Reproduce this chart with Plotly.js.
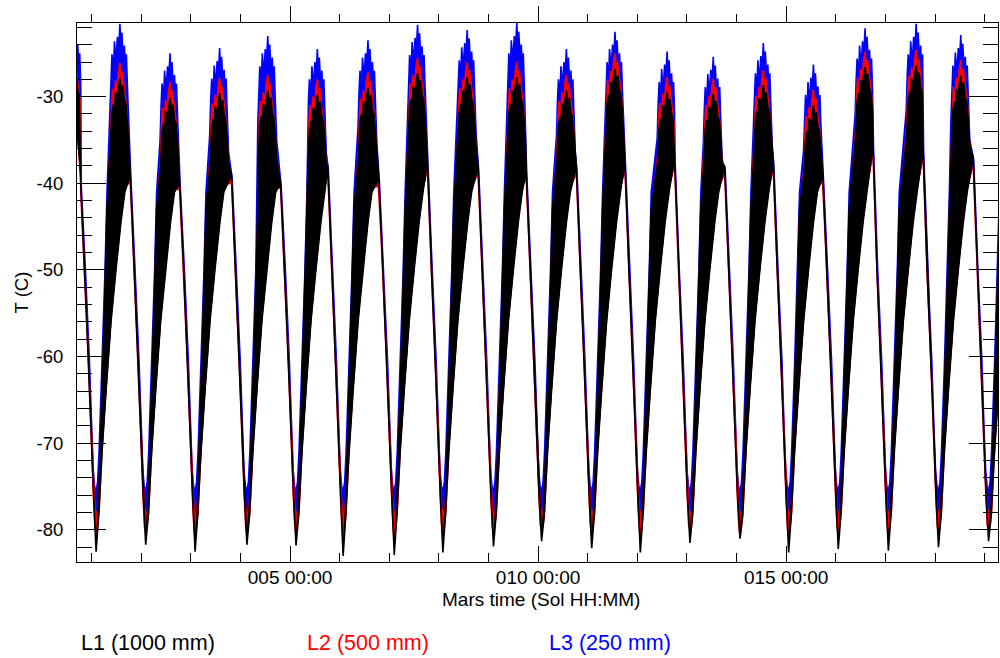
<!DOCTYPE html>
<html>
<head>
<meta charset="utf-8">
<script src="https://cdn.plot.ly/plotly-3.0.1.min.js"></script>
<style>html,body{margin:0;padding:0;background:#fff}#chart{width:1000px;height:658px}</style>
</head>
<body>
<div id="chart"></div>
<script>
// ---- Data (time in sols) ----
// nightly minima (time of each minimum)
const minTime  = [1.09, 2.09, 3.085, 4.13, 5.12, 6.07, 7.10, 8.08, 9.10, 10.07, 11.08, 12.06, 13.06, 14.07, 15.05, 16.05, 17.06, 18.07, 19.08];
// afternoon maxima (time of each maximum, the day before each minimum)
const peakTime = [0.63, 1.57, 2.58, 3.58, 4.55, 5.55, 6.57, 7.57, 8.57, 9.57, 10.57, 11.55, 12.60, 13.53, 14.54, 15.55, 16.59, 17.62, 18.52];

// minimum temperatures (C)
const L1_min = [-82.5, -81.7, -82.5, -81.7, -81.8, -83.0, -82.9, -82.6, -81.9, -81.3, -82.1, -82.6, -81.5, -81.0, -82.6, -82.2, -82.4, -82.0, -81.3];
const L2_min = [-80.5, -80.5, -81.0, -80.5, -80.5, -81.5, -81.5, -81.0, -80.5, -80.0, -80.5, -81.0, -80.0, -80.8, -81.0, -80.5, -80.5, -80.5, -80.0];
const L3_min = [-79.0, -78.5, -79.0, -79.0, -79.0, -80.0, -80.0, -79.5, -79.0, -78.0, -78.5, -80.5, -78.5, -79.0, -79.5, -79.5, -79.0, -80.0, -79.0];

// maximum temperatures (C), top of the daytime fluctuation band
const L1_peak = [-26.8, -27.9, -30.1, -29.6, -29.3, -29.8, -29.0, -27.3, -27.8, -27.8, -29.3, -26.8, -29.5, -29.7, -28.7, -31.0, -26.6, -26.4, -27.6];
const L2_peak = [-25.0, -26.1, -28.3, -27.8, -27.5, -28.0, -27.2, -25.5, -26.0, -26.0, -27.5, -25.0, -27.7, -27.9, -26.9, -29.2, -24.8, -24.6, -25.8];
const L3_peak = [-21.5, -21.6, -25.0, -24.4, -23.0, -24.5, -23.5, -21.7, -22.3, -21.5, -24.5, -22.5, -24.8, -25.4, -23.8, -26.3, -22.1, -21.6, -22.9];

// late-afternoon level where the band closes before the evening fall (C)
const L1_end = [-40.0, -39.0, -40.0, -39.0, -40.0, -38.0, -39.5, -37.5, -38.0, -38.5, -38.0, -37.5, -37.0, -38.0, -37.5, -39.0, -35.5, -36.0, -37.0];
const L2_end = [-40.8, -39.8, -40.8, -39.8, -40.6, -38.8, -40.3, -38.3, -38.8, -39.3, -38.8, -38.3, -37.8, -38.8, -38.3, -39.8, -36.3, -36.8, -37.8];
const L3_end = [-40.3, -39.3, -40.3, -39.3, -40.3, -38.3, -39.8, -37.8, -38.3, -38.8, -38.3, -37.8, -37.3, -38.3, -37.8, -39.3, -35.8, -36.3, -37.3];

// typical daily profile of each sensor, read from one representative sol
// rise*: [sols after minimum, C]; top: [sols from maximum, C below maximum];
// fall*: [sols before minimum, C]; joinDt: sols before minimum where the band closes
const L1_profile = {
  riseU: [[0.05,-77],[0.11,-66],[0.17,-54],[0.22,-43]],
  riseL: [[0.05,-78.5],[0.12,-71],[0.20,-64],[0.30,-56],[0.40,-50],[0.50,-44.5],[0.58,-41]],
  top:   [[-0.19,-8],[-0.16,-4],[-0.13,-3],[-0.11,-4],[-0.09,-1.5],[-0.06,-2.5],[-0.03,-1],[0,0],[0.03,-1.5],[0.06,-0.8],[0.09,-2.5],[0.12,-3],[0.15,-5],[0.18,-8]],
  joinDt: -0.31,
  fallU: [[-0.23,-50],[-0.15,-61],[-0.05,-76]],
  fallL: [[-0.23,-50],[-0.15,-61],[-0.05,-76]],
  minU: null
};
const L2_profile = {
  riseU: [[0.03,-78],[0.06,-76],[0.11,-67],[0.17,-55],[0.22,-44]],
  riseL: [[0.03,-79.5],[0.06,-78],[0.12,-70.5],[0.20,-63.5],[0.30,-55.5],[0.40,-49.5],[0.50,-44],[0.58,-40.5]],
  top:   [[-0.19,-9],[-0.17,-5],[-0.15,-3],[-0.12,-5],[-0.09,-2],[-0.06,-3.5],[-0.03,-1],[0,0],[0.03,-2],[0.05,-1],[0.08,-3],[0.11,-4],[0.14,-5.5],[0.17,-9]],
  joinDt: -0.31,
  fallU: [[-0.23,-50],[-0.15,-61],[-0.05,-76],[-0.025,-77.5]],
  fallL: [[-0.23,-50],[-0.15,-61],[-0.05,-76.5],[-0.025,-79.5]],
  minU: -78
};
const L3_profile = {
  riseU: [[0.03,-74.5],[0.06,-71],[0.12,-61],[0.18,-50],[0.22,-41]],
  riseL: [[0.03,-78],[0.06,-76],[0.12,-70],[0.20,-63.5],[0.30,-55.5],[0.40,-49.5],[0.50,-44],[0.58,-40.5]],
  top:   [[-0.20,-10],[-0.18,-6],[-0.16,-3.5],[-0.13,-5.5],[-0.11,-2],[-0.08,-4.5],[-0.05,-1.5],[-0.03,-3.5],[0,0],[0.02,-3],[0.04,-1],[0.07,-4.5],[0.09,-2.5],[0.11,-5],[0.13,-3.5],[0.15,-7],[0.18,-12]],
  joinDt: -0.30,
  fallU: [[-0.215,-50],[-0.135,-60.5],[-0.06,-73],[-0.03,-75]],
  fallL: [[-0.215,-50],[-0.135,-60.5],[-0.06,-74],[-0.03,-77.5]],
  minU: -75.5
};

const seriesNames  = ['L1 (1000 mm)', 'L2 (500 mm)', 'L3 (250 mm)'];
const seriesColors = ['#000000', '#ff0000', '#0000ff'];

const xTickVals = [5, 10, 15];
const xTickText = ['005 00:00', '010 00:00', '015 00:00'];
const yTickVals = [-80, -70, -60, -50, -40, -30];
const yTickText = ['-80', '-70', '-60', '-50', '-40', '-30'];
const xTitle = 'Mars time (Sol HH:MM)';
const yTitle = 'T (C)';
const xRange = [0.705, 19.27];
const yRange = [-83.7, -21.5];

// ---- Build envelope polygon (upper edge forward, lower edge backward) ----
function buildBand(prof, mins, peaks, ends) {
  const U = [], L = [];
  const n = minTime.length;
  for (let i = 0; i <= n; i++) {
    let dayU = [], dayL = [];
    const mPrev = i > 0 ? minTime[i - 1] : null;
    if (mPrev !== null) {
      prof.riseU.forEach(([dt, v]) => dayU.push([mPrev + dt, v]));
      prof.riseL.forEach(([dt, v]) => dayL.push([mPrev + dt, v]));
    }
    if (i < n) {
      const p = peakTime[i], m = minTime[i];
      const topStart = p + prof.top[0][0];
      dayU = dayU.filter(q => q[0] < topStart);
      prof.top.forEach(([dt, dv]) => dayU.push([p + dt, peaks[i] + dv]));
      const jt = m + prof.joinDt;
      dayU = dayU.filter(q => q[0] < jt);
      dayL = dayL.filter(q => q[0] < jt);
      dayU.push([jt, ends[i]]); dayL.push([jt, ends[i]]);
      prof.fallU.forEach(([dt, v]) => dayU.push([m + dt, v]));
      prof.fallL.forEach(([dt, v]) => dayL.push([m + dt, v]));
      dayU.push([m, prof.minU === null ? mins[i] : prof.minU]);
      dayL.push([m, mins[i]]);
    }
    dayU.sort((a, b) => a[0] - b[0]);
    dayL.sort((a, b) => a[0] - b[0]);
    dayU.forEach(q => U.push(q));
    dayL.forEach(q => L.push(q));
  }
  const Uc = U.filter(q => q[0] >= 0.6);
  const Lc = L.filter(q => q[0] >= 0.6).reverse();
  const all = Uc.concat(Lc);
  return { x: all.map(q => q[0]), y: all.map(q => q[1]) };
}

const bands = [
  buildBand(L3_profile, L3_min, L3_peak, L3_end),
  buildBand(L2_profile, L2_min, L2_peak, L2_end),
  buildBand(L1_profile, L1_min, L1_peak, L1_end)
];
const order = [2, 1, 0]; // draw L3, then L2, then L1 on top

const traces = bands.map((b, k) => {
  const s = order[k];
  return {
    type: 'scatter', mode: 'lines', x: b.x, y: b.y,
    fill: 'toself', fillcolor: seriesColors[s],
    line: { color: seriesColors[s], width: 1.6 },
    name: seriesNames[s], showlegend: false, hoverinfo: 'skip',
    xaxis: 'x', yaxis: 'y'
  };
});
// carrier for the top (mirrored) time axis
traces.push({
  type: 'scatter', mode: 'none', x: xRange, y: yRange,
  xaxis: 'x2', yaxis: 'y', showlegend: false, hoverinfo: 'skip'
});

const FONT = 'Liberation Sans, Arial, Helvetica, sans-serif';
const plotL = 77, plotR = 998, plotT = 23, plotB = 562;
const pw = plotR - plotL, ph = plotB - plotT;

const annotations = [
  { text: seriesNames[0], color: seriesColors[0], x: 79 },
  { text: seriesNames[1], color: seriesColors[1], x: 305 },
  { text: seriesNames[2], color: seriesColors[2], x: 547 }
].map(a => ({
  text: a.text, xref: 'paper', yref: 'paper',
  x: (a.x - plotL) / pw, y: (plotB - 643) / ph,
  xanchor: 'left', yanchor: 'middle', showarrow: false,
  font: { family: FONT, size: 21.5, color: a.color }
}));
annotations.push({
  text: xTitle, xref: 'paper', yref: 'paper',
  x: (541 - plotL) / pw, y: (plotB - 599) / ph,
  xanchor: 'center', yanchor: 'middle', showarrow: false,
  font: { family: FONT, size: 19, color: '#000' }
});

const layout = {
  width: 1000, height: 658,
  margin: { l: plotL, r: 1000 - plotR, t: plotT, b: 658 - plotB, pad: 0 },
  paper_bgcolor: '#ffffff', plot_bgcolor: '#ffffff',
  font: { family: FONT, size: 18, color: '#000' },
  showlegend: false,
  xaxis: {
    range: xRange, showgrid: false, zeroline: false,
    showline: true, linecolor: '#000', linewidth: 1,
    tickmode: 'array', tickvals: xTickVals, ticktext: xTickText,
    ticks: 'inside', ticklen: 16, tickwidth: 1, tickcolor: '#000',
    tickfont: { family: FONT, size: 19, color: '#000' },
    ticklabelstandoff: -2,
    minor: { dtick: 1, tick0: 0, ticks: 'inside', ticklen: 9, tickwidth: 1, tickcolor: '#000', showgrid: false },
    automargin: false
  },
  xaxis2: {
    range: xRange, overlaying: 'x', side: 'top', anchor: 'y',
    showgrid: false, zeroline: false, showline: true, linecolor: '#000', linewidth: 1,
    tickmode: 'array', tickvals: xTickVals, showticklabels: false,
    ticks: 'outside', ticklen: 16, tickwidth: 1, tickcolor: '#000',
    minor: { dtick: 1, tick0: 0, ticks: 'outside', ticklen: 8, tickwidth: 1, tickcolor: '#000', showgrid: false },
    automargin: false
  },
  yaxis: {
    range: yRange, showgrid: false, zeroline: false,
    showline: true, linecolor: '#000', linewidth: 1, mirror: 'ticks',
    tickmode: 'array', tickvals: yTickVals, ticktext: yTickText,
    ticks: 'inside', ticklen: 29, tickwidth: 1, tickcolor: '#000',
    tickfont: { family: FONT, size: 18.5, color: '#000' },
    ticklabelstandoff: 9,
    minor: { dtick: 2, tick0: 0, ticks: 'inside', ticklen: 15, tickwidth: 1, tickcolor: '#000', showgrid: false },
    title: { text: yTitle, font: { family: FONT, size: 18.5, color: '#000' }, standoff: 3 },
    automargin: false
  },
  annotations: annotations
};

Plotly.newPlot('chart', traces, layout, { staticPlot: true, displayModeBar: false });
</script>
</body>
</html>
